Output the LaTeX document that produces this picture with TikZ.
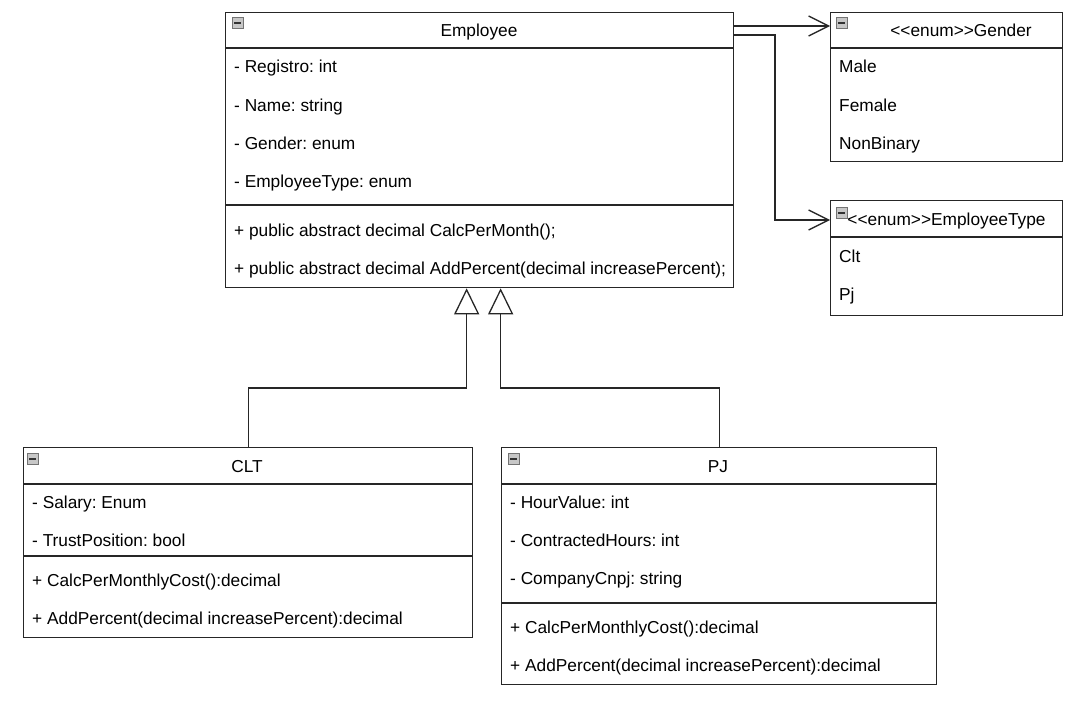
\documentclass[tikz,border=0pt]{standalone}
\usepackage{fontspec}
\setmainfont{Liberation Sans}
\usepackage{tikz}
\usetikzlibrary{arrows.meta}

\frenchspacing
\newcommand\umlfont{\fontsize{17.3}{20}\selectfont}
\newcommand\umlstereo[1]{<\kern0pt<#1>\kern0pt>}

\tikzset{
  umlbox/.style={draw=black!85, line width=1.3pt, anchor=north west, inner sep=0pt},
  sepline/.style={draw=black!85, line width=1.3pt},
  member/.style={anchor=base west, inner sep=0pt, font=\umlfont},
  title/.style={anchor=base, inner sep=0pt, font=\umlfont},
  minusicon/.style={draw=black!55, fill=black!22, line width=0.7pt, minimum size=11pt,
    inner sep=0pt, anchor=north west,
    path picture={\draw[black!80, line width=2pt]
      ([xshift=2pt]path picture bounding box.west) -- ([xshift=-2pt]path picture bounding box.east);}},
  assoc/.style={draw=black!85, line width=1.3pt, -{Straight Barb[length=20pt, width=20pt]}},
  inherit/.style={draw=black!85, line width=1.3pt, -{Triangle[open, length=26pt, width=25pt]}}
}

\begin{document}
\begin{tikzpicture}[x=1pt, y=-1pt]
    \useasboundingbox (0,0) rectangle (1074,701);

    % classes
    \node[umlbox, minimum width=508pt, minimum height=275pt] (employee) at (225,12) {};
    \node[umlbox, minimum width=232pt, minimum height=149pt] (gender) at (830,12) {};
    \node[umlbox, minimum width=232pt, minimum height=115pt] (emptype) at (830,200) {};
    \node[umlbox, minimum width=449pt, minimum height=190pt] (clt) at (23,447) {};
    \node[umlbox, minimum width=435pt, minimum height=237pt] (pj) at (501,447) {};

    % compartments
    \draw[sepline] ([yshift=-36pt]employee.north west) -- ([yshift=-36pt]employee.north east);
    \draw[sepline] ([yshift=-193pt]employee.north west) -- ([yshift=-193pt]employee.north east);
    \draw[sepline] ([yshift=-36pt]gender.north west) -- ([yshift=-36pt]gender.north east);
    \draw[sepline] ([yshift=-37pt]emptype.north west) -- ([yshift=-37pt]emptype.north east);
    \draw[sepline] ([yshift=-37pt]clt.north west) -- ([yshift=-37pt]clt.north east);
    \draw[sepline] ([yshift=-109pt]clt.north west) -- ([yshift=-109pt]clt.north east);
    \draw[sepline] ([yshift=-37pt]pj.north west) -- ([yshift=-37pt]pj.north east);
    \draw[sepline] ([yshift=-156pt]pj.north west) -- ([yshift=-156pt]pj.north east);

    % icons
    \node[minusicon] (employee-icon) at (232,17) {};
    \node[minusicon] (gender-icon) at (836,17) {};
    \node[minusicon] (emptype-icon) at (836,207) {};
    \node[minusicon] (clt-icon) at (27,453) {};
    \node[minusicon] (pj-icon) at (508,453) {};

    % titles
    \node[title] (employee-title) at (479,37) {Employee};
    \node[title] (gender-title) at (961,37) {\umlstereo{enum}Gender};
    \node[title] (emptype-title) at (946.5,225) {\umlstereo{enum}EmployeeType};
    \node[title] (clt-title) at (247,472) {CLT};
    \node[title] (pj-title) at (718,472) {PJ};

    % members
    \foreach \txt [count=\i] in {- Registro: int, - Name: string, - Gender: enum, - EmployeeType: enum}
        \node[member] (employee-attr\i) at (234, {35+38*\i}) {\txt};
    \foreach \txt [count=\i] in {{+ public abstract decimal CalcPerMonth();},
                                 {+ public abstract decimal AddPercent(decimal increasePercent);}}
        \node[member] (employee-op\i) at (234, {198+38*\i}) {\txt};
    \foreach \txt [count=\i] in {Male, Female, NonBinary}
        \node[member] (gender-val\i) at (839, {35+38*\i}) {\txt};
    \foreach \txt [count=\i] in {Clt, Pj}
        \node[member] (emptype-val\i) at (839, {224+38*\i}) {\txt};
    \foreach \txt [count=\i] in {- Salary: Enum, - TrustPosition: bool}
        \node[member] (clt-attr\i) at (32, {470+38*\i}) {\txt};
    \foreach \txt [count=\i] in {{+ CalcPerMonthlyCost():decimal},
                                 {+ AddPercent(decimal increasePercent):decimal}}
        \node[member] (clt-op\i) at (32, {548+38*\i}) {\txt};
    \foreach \txt [count=\i] in {- HourValue: int, - ContractedHours: int, - CompanyCnpj: string}
        \node[member] (pj-attr\i) at (510, {470+38*\i}) {\txt};
    \foreach \txt [count=\i] in {{+ CalcPerMonthlyCost():decimal},
                                 {+ AddPercent(decimal increasePercent):decimal}}
        \node[member] (pj-op\i) at (510, {595+38*\i}) {\txt};

    % associations
    \coordinate (gender-in) at ([yshift=-14pt]gender.north west);
    \coordinate (emptype-in) at ([yshift=-20pt]emptype.north west);
    \draw[assoc] ([yshift=-14pt]employee.north east) -- (gender-in);
    \draw[assoc] ([yshift=-23pt]employee.north east) -| ([xshift=-55pt]emptype-in) -- (emptype-in);

    % generalizations
    \draw[inherit] (clt.north) -- ++(0,-59) -| ([xshift=-13pt]employee.south);
    \draw[inherit] (pj.north) -- ++(0,-59) -| ([xshift=21pt]employee.south);
\end{tikzpicture}
\end{document}
